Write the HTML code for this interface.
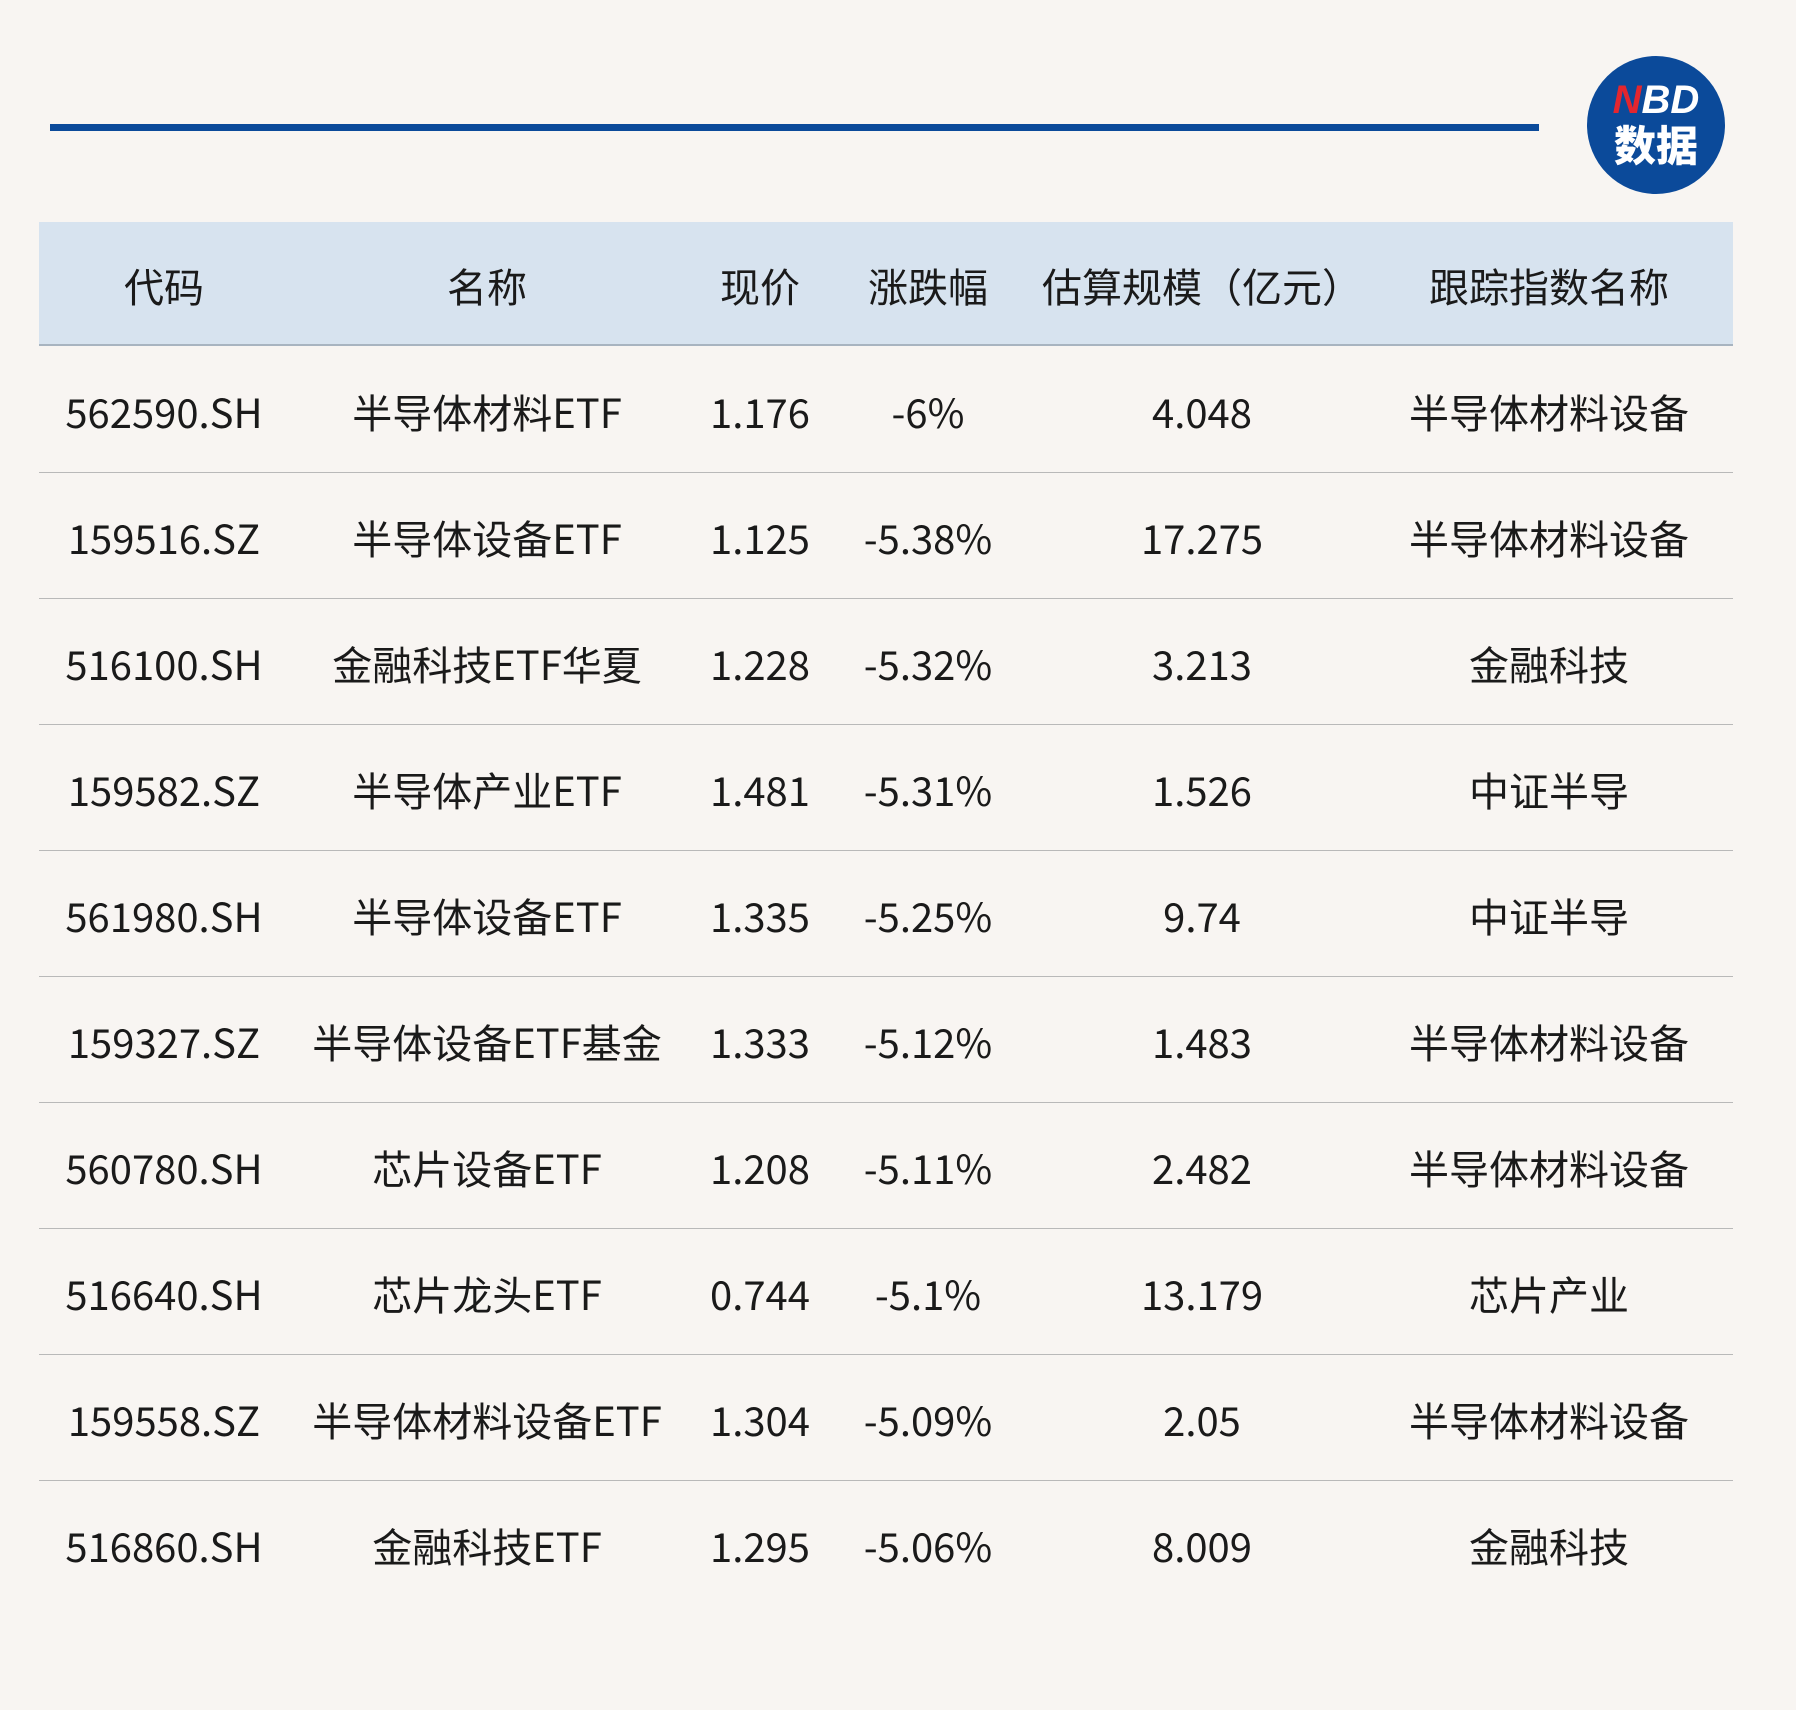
<!DOCTYPE html>
<html><head><meta charset="utf-8"><style>
body{margin:0;width:1796px;height:1710px;background:#f8f5f2;position:relative;overflow:hidden;font-family:"Noto Sans CJK SC",sans-serif;color:#1a1a1a}
.line{position:absolute;left:50px;top:124px;width:1489px;height:7px;background:#0b4a9a}
.logo{position:absolute;left:1587px;top:56px;width:138px;height:138px;border-radius:50%;background:#0b4a9a;color:#fff;text-align:center;font-weight:bold}
.logo .a{position:absolute;top:22px;left:0;right:0;font-size:40px;line-height:44px;font-family:"Liberation Sans",sans-serif;font-style:italic}
.logo .b{position:absolute;top:64px;left:0;right:0;font-size:42px;line-height:48px;font-family:"Noto Sans CJK SC",sans-serif;font-weight:900}
.hdr{position:absolute;left:39px;top:222px;width:1694px;height:122px;background:#d7e3ef;border-bottom:2px solid #a8b4c0}
.c{position:absolute;transform:translate(-50%,-50%);white-space:nowrap;font-size:40px;line-height:1}
.sep{position:absolute;left:39px;width:1694px;height:1px;background:#b9b9b9}
</style></head><body>
<div class="line"></div>
<div class="logo"><div class="a"><span style="color:#e3262f">N</span>BD</div><div class="b">数据</div></div>
<div class="hdr"></div>
<div id="t"></div>
<script>
var X=[164,487,760,928,1202,1549];
var H=["代码","名称","现价","涨跌幅","估算规模（亿元）","跟踪指数名称"];
var R=[["562590.SH","半导体材料ETF","1.176","-6%","4.048","半导体材料设备"],
["159516.SZ","半导体设备ETF","1.125","-5.38%","17.275","半导体材料设备"],
["516100.SH","金融科技ETF华夏","1.228","-5.32%","3.213","金融科技"],
["159582.SZ","半导体产业ETF","1.481","-5.31%","1.526","中证半导"],
["561980.SH","半导体设备ETF","1.335","-5.25%","9.74","中证半导"],
["159327.SZ","半导体设备ETF基金","1.333","-5.12%","1.483","半导体材料设备"],
["560780.SH","芯片设备ETF","1.208","-5.11%","2.482","半导体材料设备"],
["516640.SH","芯片龙头ETF","0.744","-5.1%","13.179","芯片产业"],
["159558.SZ","半导体材料设备ETF","1.304","-5.09%","2.05","半导体材料设备"],
["516860.SH","金融科技ETF","1.295","-5.06%","8.009","金融科技"]];
var s="";
H.forEach(function(h,i){s+='<div class="c" style="left:'+X[i]+'px;top:285px">'+h+'</div>';});
R.forEach(function(r,j){var y=411+j*126;
r.forEach(function(v,i){s+='<div class="c" style="left:'+X[i]+'px;top:'+y+'px">'+v+'</div>';});
if(j<9)s+='<div class="sep" style="top:'+(472+j*126)+'px"></div>';});
document.getElementById("t").innerHTML=s;
</script>
</body></html>
